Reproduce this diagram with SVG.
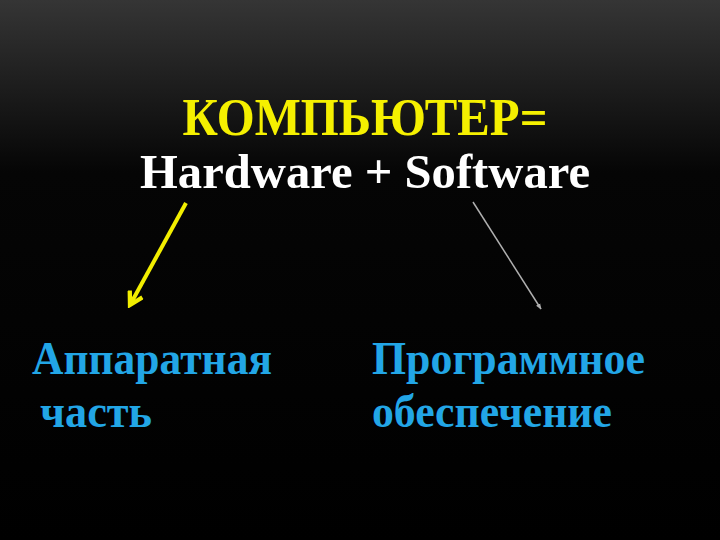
<svg xmlns="http://www.w3.org/2000/svg" width="720" height="540" viewBox="0 0 720 540">
<defs>
<linearGradient id="bg" x1="0" y1="0" x2="0" y2="1">
<stop offset="0" stop-color="#353535"/>
<stop offset="0.32" stop-color="#050505"/>
<stop offset="1" stop-color="#000000"/>
</linearGradient>
<marker id="ah-y" viewBox="0 0 10 10" refX="8" refY="5" markerWidth="4.5" markerHeight="4.5" orient="auto" markerUnits="strokeWidth">
<path d="M1,1 L8,5 L1,9" fill="none" stroke="#f2ee00" stroke-width="2.4" stroke-linejoin="miter"/>
</marker>
<marker id="ah-g" viewBox="0 0 10 10" refX="9" refY="5" markerWidth="4" markerHeight="4" orient="auto" markerUnits="strokeWidth">
<path d="M0,1 L10,5 L0,9 z" fill="#b0b0b0"/>
</marker>
</defs>
<style>
.t{font-family:"Liberation Serif","Times New Roman",serif;font-weight:bold}
.title{fill:#f5f000;font-size:52px}
.sub{fill:#ffffff;font-size:49px}
.lbl{fill:#22a6e6;font-size:47px}
</style>
<rect width="720" height="540" fill="url(#bg)"/>
<g id="title">
<text class="t title" x="365" y="135" text-anchor="middle" textLength="365" lengthAdjust="spacingAndGlyphs">КОМПЬЮТЕР=</text>
<text class="t sub" x="365" y="188" text-anchor="middle" textLength="450" lengthAdjust="spacingAndGlyphs">Hardware + Software</text>
</g>
<g id="hardware">
<text class="t lbl" x="32" y="374" textLength="240" lengthAdjust="spacingAndGlyphs">Аппаратная</text>
<text class="t lbl" x="40" y="427" textLength="112" lengthAdjust="spacingAndGlyphs">часть</text>
</g>
<g id="software">
<text class="t lbl" x="372" y="374" textLength="273" lengthAdjust="spacingAndGlyphs">Программное</text>
<text class="t lbl" x="372" y="427" textLength="240" lengthAdjust="spacingAndGlyphs">обеспечение</text>
</g>
<g id="connectors">
<line x1="186" y1="203" x2="130" y2="305" stroke="#f2ee00" stroke-width="4" marker-end="url(#ah-y)"/>
<line x1="473" y1="202" x2="541" y2="309" stroke="#b0b0b0" stroke-width="1.5" marker-end="url(#ah-g)"/>
</g>
</svg>
